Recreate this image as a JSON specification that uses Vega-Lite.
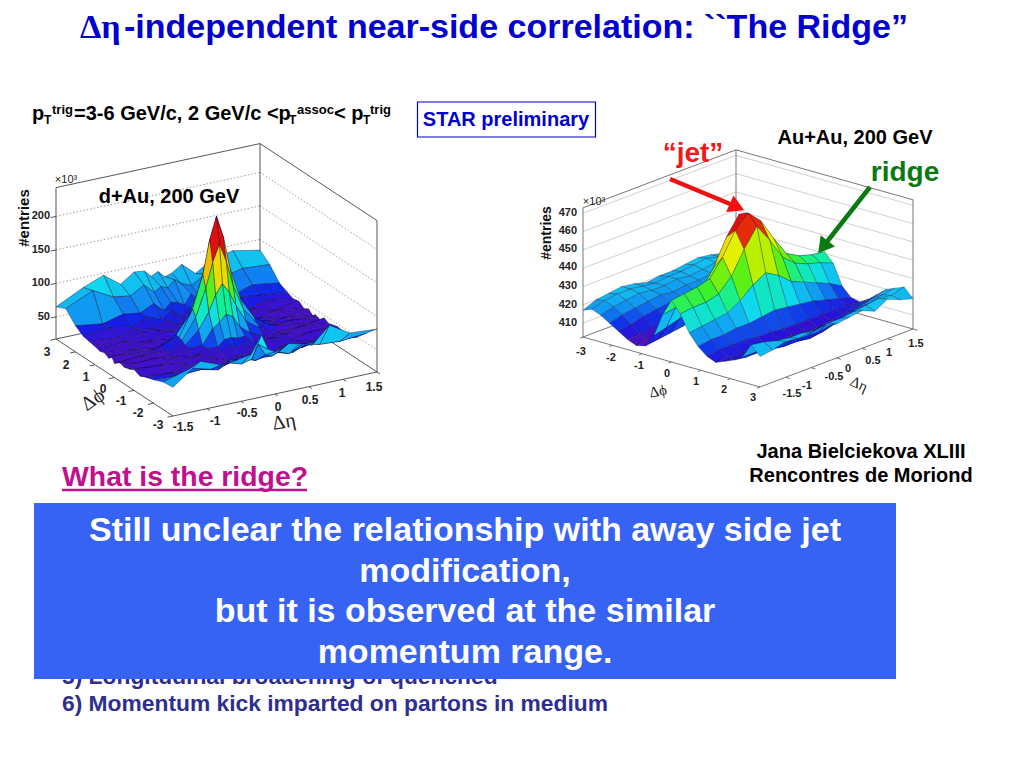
{"$schema":"https://vega.github.io/schema/vega-lite/v6.json","width":1024,"height":768,"padding":0,"autosize":{"type":"fit","contains":"padding"},"background":"white","view":{"stroke":null},"config":{"text":{"font":"Liberation Sans","fontWeight":"bold"}},
"datasets":{
"A":[
{"n":0,"z":84},{"n":1,"z":92},{"n":2,"z":86},{"n":3,"z":70},{"n":4,"z":88},{"n":5,"z":78},{"n":6,"z":75},{"n":7,"z":85},{"n":8,"z":80},{"n":9,"z":90},{"n":10,"z":92},{"n":11,"z":78},{"n":12,"z":97},{"n":13,"z":85},{"n":14,"z":65},
{"n":100,"z":72},{"n":101,"z":75},{"n":102,"z":68},{"n":103,"z":78},{"n":104,"z":66},{"n":105,"z":72},{"n":106,"z":80},{"n":107,"z":70},{"n":108,"z":74},{"n":109,"z":68},{"n":110,"z":82},{"n":111,"z":70},{"n":112,"z":74},{"n":113,"z":90},{"n":114,"z":72},
{"n":200,"z":54},{"n":201,"z":60},{"n":202,"z":50},{"n":203,"z":62},{"n":204,"z":54},{"n":205,"z":66},{"n":206,"z":52},{"n":207,"z":58},{"n":208,"z":60},{"n":209,"z":50},{"n":210,"z":64},{"n":211,"z":54},{"n":212,"z":58},{"n":213,"z":50},{"n":214,"z":56},
{"n":300,"z":48},{"n":301,"z":52},{"n":302,"z":56},{"n":303,"z":46},{"n":304,"z":60},{"n":305,"z":48},{"n":306,"z":54},{"n":307,"z":50},{"n":308,"z":46},{"n":309,"z":58},{"n":310,"z":48},{"n":311,"z":56},{"n":312,"z":46},{"n":313,"z":52},{"n":314,"z":48},
{"n":400,"z":44},{"n":401,"z":50},{"n":402,"z":42},{"n":403,"z":54},{"n":404,"z":44},{"n":405,"z":48},{"n":406,"z":52},{"n":407,"z":44},{"n":408,"z":50},{"n":409,"z":42},{"n":410,"z":52},{"n":411,"z":44},{"n":412,"z":48},{"n":413,"z":42},{"n":414,"z":46},
{"n":500,"z":46},{"n":501,"z":40},{"n":502,"z":50},{"n":503,"z":43},{"n":504,"z":50},{"n":505,"z":43},{"n":506,"z":51},{"n":507,"z":56},{"n":508,"z":47},{"n":509,"z":51},{"n":510,"z":42},{"n":511,"z":47},{"n":512,"z":50},{"n":513,"z":42},{"n":514,"z":44},
{"n":600,"z":40},{"n":601,"z":46},{"n":602,"z":38},{"n":603,"z":46},{"n":604,"z":55},{"n":605,"z":52},{"n":606,"z":59},{"n":607,"z":64},{"n":608,"z":59},{"n":609,"z":54},{"n":610,"z":43},{"n":611,"z":48},{"n":612,"z":40},{"n":613,"z":48},{"n":614,"z":42},
{"n":700,"z":44},{"n":701,"z":38},{"n":702,"z":47},{"n":703,"z":45},{"n":704,"z":57},{"n":705,"z":69},{"n":706,"z":80},{"n":707,"z":90},{"n":708,"z":80},{"n":709,"z":67},{"n":710,"z":55},{"n":711,"z":43},{"n":712,"z":47},{"n":713,"z":40},{"n":714,"z":44},
{"n":800,"z":38},{"n":801,"z":44},{"n":802,"z":43},{"n":803,"z":55},{"n":804,"z":68},{"n":805,"z":95},{"n":806,"z":117},{"n":807,"z":132},{"n":808,"z":117},{"n":809,"z":95},{"n":810,"z":70},{"n":811,"z":49},{"n":812,"z":39},{"n":813,"z":44},{"n":814,"z":40},
{"n":900,"z":42},{"n":901,"z":38},{"n":902,"z":48},{"n":903,"z":53},{"n":904,"z":85},{"n":905,"z":123},{"n":906,"z":161},{"n":907,"z":188},{"n":908,"z":161},{"n":909,"z":123},{"n":910,"z":83},{"n":911,"z":57},{"n":912,"z":42},{"n":913,"z":42},{"n":914,"z":46},
{"n":1000,"z":40},{"n":1001,"z":46},{"n":1002,"z":44},{"n":1003,"z":62},{"n":1004,"z":94},{"n":1005,"z":142},{"n":1006,"z":192},{"n":1007,"z":225},{"n":1008,"z":192},{"n":1009,"z":142},{"n":1010,"z":94},{"n":1011,"z":56},{"n":1012,"z":50},{"n":1013,"z":40},{"n":1014,"z":38},
{"n":1100,"z":38},{"n":1101,"z":42},{"n":1102,"z":48},{"n":1103,"z":56},{"n":1104,"z":82},{"n":1105,"z":120},{"n":1106,"z":158},{"n":1107,"z":186},{"n":1108,"z":160},{"n":1109,"z":124},{"n":1110,"z":84},{"n":1111,"z":54},{"n":1112,"z":44},{"n":1113,"z":44},{"n":1114,"z":42},
{"n":1200,"z":46},{"n":1201,"z":40},{"n":1202,"z":40},{"n":1203,"z":52},{"n":1204,"z":66},{"n":1205,"z":93},{"n":1206,"z":115},{"n":1207,"z":130},{"n":1208,"z":115},{"n":1209,"z":92},{"n":1210,"z":68},{"n":1211,"z":50},{"n":1212,"z":42},{"n":1213,"z":36},{"n":1214,"z":44},
{"n":1300,"z":42},{"n":1301,"z":46},{"n":1302,"z":41},{"n":1303,"z":43},{"n":1304,"z":53},{"n":1305,"z":65},{"n":1306,"z":82},{"n":1307,"z":88},{"n":1308,"z":78},{"n":1309,"z":71},{"n":1310,"z":49},{"n":1311,"z":49},{"n":1312,"z":41},{"n":1313,"z":46},{"n":1314,"z":42},
{"n":1400,"z":44},{"n":1401,"z":38},{"n":1402,"z":46},{"n":1403,"z":44},{"n":1404,"z":43},{"n":1405,"z":56},{"n":1406,"z":55},{"n":1407,"z":58},{"n":1408,"z":57},{"n":1409,"z":48},{"n":1410,"z":49},{"n":1411,"z":42},{"n":1412,"z":46},{"n":1413,"z":38},{"n":1414,"z":44},
{"n":1500,"z":46},{"n":1501,"z":48},{"n":1502,"z":42},{"n":1503,"z":51},{"n":1504,"z":46},{"n":1505,"z":43},{"n":1506,"z":51},{"n":1507,"z":48},{"n":1508,"z":53},{"n":1509,"z":47},{"n":1510,"z":40},{"n":1511,"z":49},{"n":1512,"z":42},{"n":1513,"z":46},{"n":1514,"z":48},
{"n":1600,"z":44},{"n":1601,"z":40},{"n":1602,"z":46},{"n":1603,"z":42},{"n":1604,"z":38},{"n":1605,"z":46},{"n":1606,"z":40},{"n":1607,"z":44},{"n":1608,"z":42},{"n":1609,"z":38},{"n":1610,"z":44},{"n":1611,"z":40},{"n":1612,"z":46},{"n":1613,"z":38},{"n":1614,"z":44},
{"n":1700,"z":46},{"n":1701,"z":48},{"n":1702,"z":42},{"n":1703,"z":50},{"n":1704,"z":44},{"n":1705,"z":40},{"n":1706,"z":46},{"n":1707,"z":42},{"n":1708,"z":48},{"n":1709,"z":44},{"n":1710,"z":40},{"n":1711,"z":48},{"n":1712,"z":42},{"n":1713,"z":46},{"n":1714,"z":48},
{"n":1800,"z":50},{"n":1801,"z":54},{"n":1802,"z":58},{"n":1803,"z":48},{"n":1804,"z":52},{"n":1805,"z":56},{"n":1806,"z":50},{"n":1807,"z":48},{"n":1808,"z":54},{"n":1809,"z":50},{"n":1810,"z":58},{"n":1811,"z":46},{"n":1812,"z":52},{"n":1813,"z":50},{"n":1814,"z":52},
{"n":1900,"z":66},{"n":1901,"z":62},{"n":1902,"z":64},{"n":1903,"z":70},{"n":1904,"z":60},{"n":1905,"z":66},{"n":1906,"z":62},{"n":1907,"z":66},{"n":1908,"z":84},{"n":1909,"z":64},{"n":1910,"z":60},{"n":1911,"z":66},{"n":1912,"z":62},{"n":1913,"z":70},{"n":1914,"z":58},
{"n":2000,"z":81},{"n":2001,"z":84},{"n":2002,"z":102},{"n":2003,"z":78},{"n":2004,"z":84},{"n":2005,"z":88},{"n":2006,"z":82},{"n":2007,"z":80},{"n":2008,"z":86},{"n":2009,"z":110},{"n":2010,"z":84},{"n":2011,"z":80},{"n":2012,"z":78},{"n":2013,"z":90},{"n":2014,"z":60}
],
"B":[
{"n":0,"z":417},{"n":1,"z":419},{"n":2,"z":421},{"n":3,"z":422},{"n":4,"z":421},{"n":5,"z":420},{"n":6,"z":420},{"n":7,"z":419},{"n":8,"z":421},{"n":9,"z":422},{"n":10,"z":421},{"n":11,"z":420},{"n":12,"z":417},
{"n":100,"z":418},{"n":101,"z":420},{"n":102,"z":421},{"n":103,"z":423},{"n":104,"z":422},{"n":105,"z":421},{"n":106,"z":421},{"n":107,"z":420},{"n":108,"z":421},{"n":109,"z":422},{"n":110,"z":422},{"n":111,"z":421},{"n":112,"z":419},
{"n":200,"z":418},{"n":201,"z":419},{"n":202,"z":420},{"n":203,"z":422},{"n":204,"z":421},{"n":205,"z":420},{"n":206,"z":421},{"n":207,"z":420},{"n":208,"z":420},{"n":209,"z":421},{"n":210,"z":420},{"n":211,"z":419},{"n":212,"z":417},
{"n":300,"z":416},{"n":301,"z":417},{"n":302,"z":419},{"n":303,"z":420},{"n":304,"z":420},{"n":305,"z":419},{"n":306,"z":419},{"n":307,"z":418},{"n":308,"z":419},{"n":309,"z":418},{"n":310,"z":417},{"n":311,"z":416},{"n":312,"z":414},
{"n":400,"z":414},{"n":401,"z":415},{"n":402,"z":417},{"n":403,"z":418},{"n":404,"z":418},{"n":405,"z":417},{"n":406,"z":417},{"n":407,"z":416},{"n":408,"z":416},{"n":409,"z":415},{"n":410,"z":414},{"n":411,"z":412},{"n":412,"z":411},
{"n":500,"z":412},{"n":501,"z":413},{"n":502,"z":415},{"n":503,"z":416},{"n":504,"z":416},{"n":505,"z":415},{"n":506,"z":415},{"n":507,"z":414},{"n":508,"z":413},{"n":509,"z":411},{"n":510,"z":409},{"n":511,"z":408},{"n":512,"z":408},
{"n":600,"z":410},{"n":601,"z":411},{"n":602,"z":413},{"n":603,"z":414},{"n":604,"z":414},{"n":605,"z":414},{"n":606,"z":414},{"n":607,"z":412},{"n":608,"z":410},{"n":609,"z":408},{"n":610,"z":407},{"n":611,"z":406},{"n":612,"z":406},
{"n":700,"z":411},{"n":701,"z":412},{"n":702,"z":414},{"n":703,"z":415},{"n":704,"z":416},{"n":705,"z":417},{"n":706,"z":417},{"n":707,"z":415},{"n":708,"z":412},{"n":709,"z":410},{"n":710,"z":409},{"n":711,"z":408},{"n":712,"z":407},
{"n":800,"z":416},{"n":801,"z":418},{"n":802,"z":421},{"n":803,"z":423},{"n":804,"z":427},{"n":805,"z":434},{"n":806,"z":440},{"n":807,"z":434},{"n":808,"z":425},{"n":809,"z":420},{"n":810,"z":418},{"n":811,"z":416},{"n":812,"z":414},
{"n":900,"z":425},{"n":901,"z":427},{"n":902,"z":430},{"n":903,"z":433},{"n":904,"z":442},{"n":905,"z":456},{"n":906,"z":466},{"n":907,"z":456},{"n":908,"z":442},{"n":909,"z":432},{"n":910,"z":430},{"n":911,"z":428},{"n":912,"z":427},
{"n":1000,"z":431},{"n":1001,"z":432},{"n":1002,"z":434},{"n":1003,"z":438},{"n":1004,"z":449},{"n":1005,"z":461},{"n":1006,"z":468},{"n":1007,"z":461},{"n":1008,"z":449},{"n":1009,"z":440},{"n":1010,"z":438},{"n":1011,"z":437},{"n":1012,"z":436},
{"n":1100,"z":426},{"n":1101,"z":429},{"n":1102,"z":431},{"n":1103,"z":434},{"n":1104,"z":440},{"n":1105,"z":452},{"n":1106,"z":462},{"n":1107,"z":452},{"n":1108,"z":440},{"n":1109,"z":433},{"n":1110,"z":431},{"n":1111,"z":431},{"n":1112,"z":430},
{"n":1200,"z":415},{"n":1201,"z":419},{"n":1202,"z":422},{"n":1203,"z":425},{"n":1204,"z":428},{"n":1205,"z":434},{"n":1206,"z":438},{"n":1207,"z":434},{"n":1208,"z":428},{"n":1209,"z":424},{"n":1210,"z":423},{"n":1211,"z":422},{"n":1212,"z":421},
{"n":1300,"z":410},{"n":1301,"z":412},{"n":1302,"z":414},{"n":1303,"z":416},{"n":1304,"z":417},{"n":1305,"z":418},{"n":1306,"z":419},{"n":1307,"z":418},{"n":1308,"z":417},{"n":1309,"z":417},{"n":1310,"z":416},{"n":1311,"z":416},{"n":1312,"z":415},
{"n":1400,"z":409},{"n":1401,"z":410},{"n":1402,"z":410},{"n":1403,"z":410},{"n":1404,"z":410},{"n":1405,"z":410},{"n":1406,"z":410},{"n":1407,"z":411},{"n":1408,"z":411},{"n":1409,"z":412},{"n":1410,"z":412},{"n":1411,"z":412},{"n":1412,"z":411},
{"n":1500,"z":412},{"n":1501,"z":411},{"n":1502,"z":409},{"n":1503,"z":408},{"n":1504,"z":407},{"n":1505,"z":407},{"n":1506,"z":408},{"n":1507,"z":408},{"n":1508,"z":408},{"n":1509,"z":409},{"n":1510,"z":409},{"n":1511,"z":409},{"n":1512,"z":409},
{"n":1600,"z":416},{"n":1601,"z":414},{"n":1602,"z":412},{"n":1603,"z":410},{"n":1604,"z":408},{"n":1605,"z":407},{"n":1606,"z":407},{"n":1607,"z":408},{"n":1608,"z":408},{"n":1609,"z":409},{"n":1610,"z":410},{"n":1611,"z":410},{"n":1612,"z":411},
{"n":1700,"z":420},{"n":1701,"z":418},{"n":1702,"z":416},{"n":1703,"z":414},{"n":1704,"z":412},{"n":1705,"z":410},{"n":1706,"z":409},{"n":1707,"z":410},{"n":1708,"z":410},{"n":1709,"z":411},{"n":1710,"z":412},{"n":1711,"z":412},{"n":1712,"z":413},
{"n":1800,"z":422},{"n":1801,"z":421},{"n":1802,"z":419},{"n":1803,"z":418},{"n":1804,"z":416},{"n":1805,"z":415},{"n":1806,"z":414},{"n":1807,"z":414},{"n":1808,"z":415},{"n":1809,"z":415},{"n":1810,"z":416},{"n":1811,"z":416},{"n":1812,"z":416},
{"n":1900,"z":424},{"n":1901,"z":422},{"n":1902,"z":423},{"n":1903,"z":422},{"n":1904,"z":421},{"n":1905,"z":420},{"n":1906,"z":420},{"n":1907,"z":419},{"n":1908,"z":420},{"n":1909,"z":420},{"n":1910,"z":421},{"n":1911,"z":423},{"n":1912,"z":424},
{"n":2000,"z":419},{"n":2001,"z":421},{"n":2002,"z":424},{"n":2003,"z":420},{"n":2004,"z":423},{"n":2005,"z":422},{"n":2006,"z":421},{"n":2007,"z":423},{"n":2008,"z":422},{"n":2009,"z":421},{"n":2010,"z":422},{"n":2011,"z":420},{"n":2012,"z":419}
],
"frameA":[
{"p":3,"e":-1.5,"z":17,"p2":3,"e2":-1.5,"z2":243},{"p":3,"e":1.5,"z":17,"p2":3,"e2":1.5,"z2":243},{"p":-3,"e":1.5,"z":17,"p2":-3,"e2":1.5,"z2":243},
{"p":3,"e":-1.5,"z":243,"p2":3,"e2":1.5,"z2":243},{"p":3,"e":1.5,"z":243,"p2":-3,"e2":1.5,"z2":243},
{"p":3,"e":-1.5,"z":17,"p2":3,"e2":1.5,"z2":17},{"p":3,"e":1.5,"z":17,"p2":-3,"e2":1.5,"z2":17},{"p":3,"e":-1.5,"z":17,"p2":-3,"e2":-1.5,"z2":17},{"p":-3,"e":-1.5,"z":17,"p2":-3,"e2":1.5,"z2":17},
{"p":3,"e":-1.5,"z":50,"p2":3,"e2":-1.58,"z2":50},{"p":3,"e":-1.5,"z":100,"p2":3,"e2":-1.58,"z2":100},{"p":3,"e":-1.5,"z":150,"p2":3,"e2":-1.58,"z2":150},{"p":3,"e":-1.5,"z":200,"p2":3,"e2":-1.58,"z2":200},
{"p":3,"e":-1.5,"z":17,"p2":3,"e2":-1.58,"z2":17},{"p":2,"e":-1.5,"z":17,"p2":2,"e2":-1.58,"z2":17},{"p":1,"e":-1.5,"z":17,"p2":1,"e2":-1.58,"z2":17},{"p":0,"e":-1.5,"z":17,"p2":0,"e2":-1.58,"z2":17},{"p":-1,"e":-1.5,"z":17,"p2":-1,"e2":-1.58,"z2":17},{"p":-2,"e":-1.5,"z":17,"p2":-2,"e2":-1.58,"z2":17},{"p":-3,"e":-1.5,"z":17,"p2":-3,"e2":-1.58,"z2":17},
{"p":-3,"e":-1,"z":17,"p2":-3.15,"e2":-1,"z2":17},{"p":-3,"e":-0.5,"z":17,"p2":-3.15,"e2":-0.5,"z2":17},{"p":-3,"e":0,"z":17,"p2":-3.15,"e2":0,"z2":17},{"p":-3,"e":0.5,"z":17,"p2":-3.15,"e2":0.5,"z2":17},{"p":-3,"e":1,"z":17,"p2":-3.15,"e2":1,"z2":17},{"p":-3,"e":1.5,"z":17,"p2":-3.15,"e2":1.5,"z2":17}
],
"gridA":[
{"p":3,"e":-1.5,"z":50,"p2":3,"e2":1.5,"z2":50},{"p":3,"e":1.5,"z":50,"p2":-3,"e2":1.5,"z2":50},
{"p":3,"e":-1.5,"z":100,"p2":3,"e2":1.5,"z2":100},{"p":3,"e":1.5,"z":100,"p2":-3,"e2":1.5,"z2":100},
{"p":3,"e":-1.5,"z":150,"p2":3,"e2":1.5,"z2":150},{"p":3,"e":1.5,"z":150,"p2":-3,"e2":1.5,"z2":150},
{"p":3,"e":-1.5,"z":200,"p2":3,"e2":1.5,"z2":200},{"p":3,"e":1.5,"z":200,"p2":-3,"e2":1.5,"z2":200}
],
"frameB":[
{"p":-3,"e":-1.5,"z":402.4,"p2":-3,"e2":-1.5,"z2":473},{"p":-3,"e":1.5,"z":402.4,"p2":-3,"e2":1.5,"z2":473},{"p":3,"e":1.5,"z":402.4,"p2":3,"e2":1.5,"z2":473},
{"p":-3,"e":-1.5,"z":473,"p2":-3,"e2":1.5,"z2":473},{"p":-3,"e":1.5,"z":473,"p2":3,"e2":1.5,"z2":473},
{"p":-3,"e":-1.5,"z":402.4,"p2":-3,"e2":1.5,"z2":402.4},{"p":-3,"e":1.5,"z":402.4,"p2":3,"e2":1.5,"z2":402.4},{"p":-3,"e":-1.5,"z":402.4,"p2":3,"e2":-1.5,"z2":402.4},{"p":3,"e":-1.5,"z":402.4,"p2":3,"e2":1.5,"z2":402.4},
{"p":-3,"e":-1.5,"z":402.4,"p2":-3,"e2":-1.56,"z2":402.4},{"p":-2,"e":-1.5,"z":402.4,"p2":-2,"e2":-1.56,"z2":402.4},{"p":-1,"e":-1.5,"z":402.4,"p2":-1,"e2":-1.56,"z2":402.4},{"p":0,"e":-1.5,"z":402.4,"p2":0,"e2":-1.56,"z2":402.4},{"p":1,"e":-1.5,"z":402.4,"p2":1,"e2":-1.56,"z2":402.4},{"p":2,"e":-1.5,"z":402.4,"p2":2,"e2":-1.56,"z2":402.4},{"p":3,"e":-1.5,"z":402.4,"p2":3,"e2":-1.56,"z2":402.4},
{"p":3,"e":-1,"z":402.4,"p2":3.15,"e2":-1,"z2":402.4},{"p":3,"e":-0.5,"z":402.4,"p2":3.15,"e2":-0.5,"z2":402.4},{"p":3,"e":0,"z":402.4,"p2":3.15,"e2":0,"z2":402.4},{"p":3,"e":0.5,"z":402.4,"p2":3.15,"e2":0.5,"z2":402.4},{"p":3,"e":1,"z":402.4,"p2":3.15,"e2":1,"z2":402.4},{"p":3,"e":1.5,"z":402.4,"p2":3.15,"e2":1.5,"z2":402.4}
],
"gridB":[
{"p":-3,"e":-1.5,"z":410,"p2":-3,"e2":1.5,"z2":410},{"p":-3,"e":1.5,"z":410,"p2":3,"e2":1.5,"z2":410},
{"p":-3,"e":-1.5,"z":420,"p2":-3,"e2":1.5,"z2":420},{"p":-3,"e":1.5,"z":420,"p2":3,"e2":1.5,"z2":420},
{"p":-3,"e":-1.5,"z":430,"p2":-3,"e2":1.5,"z2":430},{"p":-3,"e":1.5,"z":430,"p2":3,"e2":1.5,"z2":430},
{"p":-3,"e":-1.5,"z":440,"p2":-3,"e2":1.5,"z2":440},{"p":-3,"e":1.5,"z":440,"p2":3,"e2":1.5,"z2":440},
{"p":-3,"e":-1.5,"z":450,"p2":-3,"e2":1.5,"z2":450},{"p":-3,"e":1.5,"z":450,"p2":3,"e2":1.5,"z2":450},
{"p":-3,"e":-1.5,"z":460,"p2":-3,"e2":1.5,"z2":460},{"p":-3,"e":1.5,"z":460,"p2":3,"e2":1.5,"z2":460},
{"p":-3,"e":-1.5,"z":470,"p2":-3,"e2":1.5,"z2":470},{"p":-3,"e":1.5,"z":470,"p2":3,"e2":1.5,"z2":470}
]
},
"encoding":{"x":{"field":"sx","type":"quantitative","scale":{"domain":[0,1024],"nice":false,"zero":false},"axis":null},"y":{"field":"sy","type":"quantitative","scale":{"domain":[768,0],"nice":false,"zero":false},"axis":null}},
"resolve":{"scale":{"fill":"independent"}},
"layer":[
{"data":{"name":"gridA"},"transform":[{"calculate":"173-19.5*(datum.p+3)+68*(datum.e+1.5)","as":"sx"},{"calculate":"416-12.83*(datum.p+3)-14.67*(datum.e+1.5)-0.67*(datum.z-17)","as":"sy"},{"calculate":"173-19.5*(datum.p2+3)+68*(datum.e2+1.5)","as":"sx2"},{"calculate":"416-12.83*(datum.p2+3)-14.67*(datum.e2+1.5)-0.67*(datum.z2-17)","as":"sy2"}],"mark":{"type":"rule","color":"#777","strokeWidth":0.7,"strokeDash":[1.5,2]},"encoding":{"x2":{"field":"sx2"},"y2":{"field":"sy2"}}},
{"data":{"name":"frameA"},"transform":[{"calculate":"173-19.5*(datum.p+3)+68*(datum.e+1.5)","as":"sx"},{"calculate":"416-12.83*(datum.p+3)-14.67*(datum.e+1.5)-0.67*(datum.z-17)","as":"sy"},{"calculate":"173-19.5*(datum.p2+3)+68*(datum.e2+1.5)","as":"sx2"},{"calculate":"416-12.83*(datum.p2+3)-14.67*(datum.e2+1.5)-0.67*(datum.z2-17)","as":"sy2"}],"mark":{"type":"rule","color":"#444","strokeWidth":0.9},"encoding":{"x2":{"field":"sx2"},"y2":{"field":"sy2"}}},
{"data":{"name":"gridB"},"transform":[{"calculate":"760-29.5*(3-datum.p)+51*(datum.e+1.5)","as":"sx"},{"calculate":"387-8.33*(3-datum.p)-19.33*(datum.e+1.5)-1.83*(datum.z-402.4)","as":"sy"},{"calculate":"760-29.5*(3-datum.p2)+51*(datum.e2+1.5)","as":"sx2"},{"calculate":"387-8.33*(3-datum.p2)-19.33*(datum.e2+1.5)-1.83*(datum.z2-402.4)","as":"sy2"}],"mark":{"type":"rule","color":"#bbb","strokeWidth":0.7},"encoding":{"x2":{"field":"sx2"},"y2":{"field":"sy2"}}},
{"data":{"name":"frameB"},"transform":[{"calculate":"760-29.5*(3-datum.p)+51*(datum.e+1.5)","as":"sx"},{"calculate":"387-8.33*(3-datum.p)-19.33*(datum.e+1.5)-1.83*(datum.z-402.4)","as":"sy"},{"calculate":"760-29.5*(3-datum.p2)+51*(datum.e2+1.5)","as":"sx2"},{"calculate":"387-8.33*(3-datum.p2)-19.33*(datum.e2+1.5)-1.83*(datum.z2-402.4)","as":"sy2"}],"mark":{"type":"rule","color":"#555","strokeWidth":0.8},"encoding":{"x2":{"field":"sx2"},"y2":{"field":"sy2"}}},
{"data":{"name":"A"},"transform":[
{"calculate":"datum.n+100","as":"n1"},{"calculate":"datum.n+101","as":"n2"},{"calculate":"datum.n+1","as":"n3"},
{"lookup":"n1","from":{"data":{"name":"A"},"key":"n","fields":["z"]},"as":["z1"]},
{"lookup":"n2","from":{"data":{"name":"A"},"key":"n","fields":["z"]},"as":["z2"]},
{"lookup":"n3","from":{"data":{"name":"A"},"key":"n","fields":["z"]},"as":["z3"]},
{"filter":"isValid(datum.z1)&&isValid(datum.z2)&&isValid(datum.z3)&&(datum.n%100)<14"},
{"calculate":"0.25*max(datum.z,datum.z1,datum.z2,datum.z3)+0.1875*(datum.z+datum.z1+datum.z2+datum.z3)","as":"zc"},
{"calculate":"[0,1,2,3,4]","as":"c"},{"flatten":["c"]},
{"calculate":"floor(datum.n/100)+((datum.c==1||datum.c==2)?1:0)","as":"ii"},
{"calculate":"(datum.n%100)+((datum.c==2||datum.c==3)?1:0)","as":"jj"},
{"calculate":"[datum.z,datum.z1,datum.z2,datum.z3,datum.z][datum.c]","as":"zz"},
{"calculate":"[3,2.5,2,1.6,1.3,1,0.75,0.5,0.3,0.15,0,-0.15,-0.3,-0.5,-0.75,-1,-1.3,-1.6,-2,-2.5,-3][datum.ii]","as":"pp"},
{"calculate":"[1.5,1.1,0.8,0.55,0.35,0.2,0.1,0,-0.1,-0.2,-0.35,-0.55,-0.8,-1.1,-1.5][datum.jj]","as":"ee"},
{"calculate":"173-19.5*(datum.pp+3)+68*(datum.ee+1.5)","as":"sx"},
{"calculate":"416-12.83*(datum.pp+3)-14.67*(datum.ee+1.5)-0.67*(datum.zz-17)","as":"sy"}],
"mark":{"type":"line","stroke":"#0a0a30","strokeWidth":0.45,"strokeOpacity":0.85},
"encoding":{"detail":{"field":"n"},"order":{"field":"c"},"fill":{"field":"zc","type":"quantitative","legend":null,"scale":{"domain":[36,46,54,64,76,92,110,128,152,175,195],"range":["#5a10b0","#3a10d0","#1020e8","#1070f0","#10a8f0","#10e0f0","#10f090","#40f020","#e8f000","#ff9000","#e01010"],"clamp":true,"interpolate":"rgb"}}}},
{"data":{"name":"B"},"transform":[
{"calculate":"datum.n+100","as":"n1"},{"calculate":"datum.n+101","as":"n2"},{"calculate":"datum.n+1","as":"n3"},
{"lookup":"n1","from":{"data":{"name":"B"},"key":"n","fields":["z"]},"as":["z1"]},
{"lookup":"n2","from":{"data":{"name":"B"},"key":"n","fields":["z"]},"as":["z2"]},
{"lookup":"n3","from":{"data":{"name":"B"},"key":"n","fields":["z"]},"as":["z3"]},
{"filter":"isValid(datum.z1)&&isValid(datum.z2)&&isValid(datum.z3)&&(datum.n%100)<12"},
{"calculate":"0.25*(datum.z+datum.z1+datum.z2+datum.z3)","as":"zc"},
{"calculate":"[0,1,2,3,4]","as":"c"},{"flatten":["c"]},
{"calculate":"floor(datum.n/100)+((datum.c==1||datum.c==2)?1:0)","as":"ii"},
{"calculate":"(datum.n%100)+((datum.c==2||datum.c==3)?1:0)","as":"jj"},
{"calculate":"[datum.z,datum.z1,datum.z2,datum.z3,datum.z][datum.c]","as":"zz"},
{"calculate":"-3+0.3*datum.ii","as":"pp"},{"calculate":"1.5-0.25*datum.jj","as":"ee"},
{"calculate":"760-29.5*(3-datum.pp)+51*(datum.ee+1.5)","as":"sx"},
{"calculate":"387-8.33*(3-datum.pp)-19.33*(datum.ee+1.5)-1.83*(datum.zz-402.4)","as":"sy"}],
"mark":{"type":"line","stroke":"#0a0a30","strokeWidth":0.4,"strokeOpacity":0.7},
"encoding":{"detail":{"field":"n"},"order":{"field":"c"},"fill":{"field":"zc","type":"quantitative","legend":null,"scale":{"domain":[406,409,413,418,424,430,436,445,451,456,462],"range":["#5a10b0","#2a10d8","#1030e8","#1090f0","#10d8f0","#10f0a0","#40f020","#a8f000","#e8f000","#ff9000","#e01010"],"clamp":true,"interpolate":"rgb"}}}},

{"data":{"values":[{"sx":124,"sy":38,"t":"-independent near-side correlation: ``The Ridge”"}]},"mark":{"type":"text","align":"left","baseline":"alphabetic","fontSize":34,"color":"#0000d0"},"encoding":{"text":{"field":"t"}}},
{"data":{"values":[{"sx":80,"sy":38,"t":"Δη"}]},"mark":{"type":"text","align":"left","baseline":"alphabetic","fontSize":34,"font":"Liberation Serif","color":"#0000d0"},"encoding":{"text":{"field":"t"}}},
{"data":{"values":[{"sx":32,"sy":120,"t":"p"},{"sx":74,"sy":120,"t":"=3-6 GeV/c, 2 GeV/c <p"},{"sx":334,"sy":120,"t":"< p"}]},"mark":{"type":"text","align":"left","baseline":"alphabetic","fontSize":20,"color":"#000"},"encoding":{"text":{"field":"t"}}},
{"data":{"values":[{"sx":44,"sy":124,"t":"T"},{"sx":289,"sy":124,"t":"T"},{"sx":363,"sy":124,"t":"T"}]},"mark":{"type":"text","align":"left","baseline":"alphabetic","fontSize":12,"color":"#000"},"encoding":{"text":{"field":"t"}}},
{"data":{"values":[{"sx":52,"sy":114,"t":"trig"},{"sx":297,"sy":114,"t":"assoc"},{"sx":370,"sy":114,"t":"trig"}]},"mark":{"type":"text","align":"left","baseline":"alphabetic","fontSize":13,"color":"#000"},"encoding":{"text":{"field":"t"}}},
{"data":{"values":[{"sx":417.5,"sy":102,"sx2":595.5,"sy2":137}]},"mark":{"type":"rect","fill":"#fff","stroke":"#0000c8","strokeWidth":1.2},"encoding":{"x2":{"field":"sx2"},"y2":{"field":"sy2"}}},
{"data":{"values":[{"sx":506,"sy":120,"t":"STAR preliminary"}]},"mark":{"type":"text","baseline":"middle","fontSize":20,"color":"#0000d0"},"encoding":{"text":{"field":"t"}}},
{"data":{"values":[{"sx":169,"sy":197,"t":"d+Au, 200 GeV"},{"sx":855,"sy":138,"t":"Au+Au, 200 GeV"},{"sx":861,"sy":452,"t":"Jana Bielciekova XLIII"},{"sx":861,"sy":476,"t":"Rencontres de Moriond"}]},"mark":{"type":"text","baseline":"middle","fontSize":20,"color":"#000"},"encoding":{"text":{"field":"t"}}},
{"data":{"values":[{"sx":693,"sy":154,"t":"“jet”"}]},"mark":{"type":"text","baseline":"middle","fontSize":28,"color":"#f01818"},"encoding":{"text":{"field":"t"}}},
{"data":{"values":[{"sx":905,"sy":173,"t":"ridge"}]},"mark":{"type":"text","baseline":"middle","fontSize":28,"color":"#0a7a10"},"encoding":{"text":{"field":"t"}}},
{"data":{"values":[{"sx":670,"sy":179,"sx2":735,"sy2":206}]},"mark":{"type":"rule","color":"#f01010","strokeWidth":4.5},"encoding":{"x2":{"field":"sx2"},"y2":{"field":"sy2"}}},
{"data":{"values":[{"sx":737,"sy":207}]},"mark":{"type":"point","shape":"triangle-up","filled":true,"size":330,"angle":114,"color":"#f01010","opacity":1}},
{"data":{"values":[{"sx":870,"sy":187,"sx2":826,"sy2":243}]},"mark":{"type":"rule","color":"#0a7a10","strokeWidth":4.5},"encoding":{"x2":{"field":"sx2"},"y2":{"field":"sy2"}}},
{"data":{"values":[{"sx":823,"sy":247}]},"mark":{"type":"point","shape":"triangle-up","filled":true,"size":330,"angle":218,"color":"#0a7a10","opacity":1}},
{"data":{"values":[{"sx":24,"sy":218,"t":"#entries"}]},"mark":{"type":"text","baseline":"middle","angle":270,"fontSize":15,"color":"#111"},"encoding":{"text":{"field":"t"}}},
{"data":{"values":[{"sx":50,"sy":216,"t":"200"},{"sx":50,"sy":250,"t":"150"},{"sx":50,"sy":283,"t":"100"},{"sx":50,"sy":317,"t":"50"}]},"mark":{"type":"text","align":"right","baseline":"middle","fontSize":11,"color":"#222"},"encoding":{"text":{"field":"t"}}},
{"data":{"values":[{"sx":66,"sy":180,"t":"×10³"}]},"mark":{"type":"text","baseline":"middle","fontSize":11,"fontWeight":"normal","color":"#222"},"encoding":{"text":{"field":"t"}}},
{"data":{"values":[{"sx":47,"sy":352,"t":"3"},{"sx":66,"sy":365,"t":"2"},{"sx":86,"sy":377,"t":"1"},{"sx":103,"sy":389,"t":"0"},{"sx":121,"sy":401,"t":"-1"},{"sx":138,"sy":413,"t":"-2"},{"sx":158,"sy":425,"t":"-3"},{"sx":183,"sy":427,"t":"-1.5"},{"sx":215,"sy":421,"t":"-1"},{"sx":247,"sy":413,"t":"-0.5"},{"sx":278,"sy":407,"t":"0"},{"sx":310,"sy":400,"t":"0.5"},{"sx":342,"sy":393,"t":"1"},{"sx":374,"sy":387,"t":"1.5"}]},"mark":{"type":"text","baseline":"middle","fontSize":12,"color":"#222"},"encoding":{"text":{"field":"t"}}},
{"data":{"values":[{"sx":93,"sy":400,"t":"Δϕ"}]},"mark":{"type":"text","baseline":"middle","angle":325,"fontSize":20,"font":"Liberation Serif","fontWeight":"normal","color":"#222"},"encoding":{"text":{"field":"t"}}},
{"data":{"values":[{"sx":284,"sy":422,"t":"Δη"}]},"mark":{"type":"text","baseline":"middle","angle":350,"fontSize":20,"font":"Liberation Serif","fontWeight":"normal","color":"#222"},"encoding":{"text":{"field":"t"}}},
{"data":{"values":[{"sx":547,"sy":233,"t":"#entries"}]},"mark":{"type":"text","baseline":"middle","angle":270,"fontSize":14,"color":"#111"},"encoding":{"text":{"field":"t"}}},
{"data":{"values":[{"sx":577,"sy":213,"t":"470"},{"sx":577,"sy":231,"t":"460"},{"sx":577,"sy":249,"t":"450"},{"sx":577,"sy":267,"t":"440"},{"sx":577,"sy":286,"t":"430"},{"sx":577,"sy":305,"t":"420"},{"sx":577,"sy":323,"t":"410"}]},"mark":{"type":"text","align":"right","baseline":"middle","fontSize":11,"color":"#222"},"encoding":{"text":{"field":"t"}}},
{"data":{"values":[{"sx":594,"sy":202,"t":"×10³"}]},"mark":{"type":"text","baseline":"middle","fontSize":11,"fontWeight":"normal","color":"#222"},"encoding":{"text":{"field":"t"}}},
{"data":{"values":[{"sx":581,"sy":352,"t":"-3"},{"sx":611,"sy":358,"t":"-2"},{"sx":639,"sy":366,"t":"-1"},{"sx":667,"sy":374,"t":"0"},{"sx":696,"sy":382,"t":"1"},{"sx":724,"sy":390,"t":"2"},{"sx":753,"sy":398,"t":"3"},{"sx":792,"sy":394,"t":"-1.5"},{"sx":807,"sy":386,"t":"-1"},{"sx":834,"sy":377,"t":"-0.5"},{"sx":848,"sy":369,"t":"0"},{"sx":873,"sy":361,"t":"0.5"},{"sx":889,"sy":353,"t":"1"},{"sx":916,"sy":344,"t":"1.5"}]},"mark":{"type":"text","baseline":"middle","fontSize":11,"color":"#222"},"encoding":{"text":{"field":"t"}}},
{"data":{"values":[{"sx":658,"sy":391,"t":"Δϕ"}]},"mark":{"type":"text","baseline":"middle","angle":350,"fontSize":15,"font":"Liberation Serif","fontWeight":"normal","color":"#222"},"encoding":{"text":{"field":"t"}}},
{"data":{"values":[{"sx":859,"sy":384,"t":"Δη"}]},"mark":{"type":"text","baseline":"middle","angle":25,"fontSize":15,"font":"Liberation Serif","fontWeight":"normal","color":"#222"},"encoding":{"text":{"field":"t"}}},
{"data":{"values":[{"sx":62,"sy":486,"t":"What is the ridge?"}]},"mark":{"type":"text","align":"left","baseline":"alphabetic","fontSize":28.4,"color":"#c0108c"},"encoding":{"text":{"field":"t"}}},
{"data":{"values":[{"sx":62,"sy":490,"sx2":307}]},"mark":{"type":"rule","color":"#c0108c","strokeWidth":2.5},"encoding":{"x2":{"field":"sx2"}}},
{"data":{"values":[{"sx":62,"sy":684,"t":"5) Longitudinal broadening of quenched"},{"sx":62,"sy":711,"t":"6) Momentum kick imparted on partons in medium"}]},"mark":{"type":"text","align":"left","baseline":"alphabetic","fontSize":22.8,"color":"#2e2e8f"},"encoding":{"text":{"field":"t"}}},
{"data":{"values":[{"sx":34,"sy":503,"sx2":896,"sy2":679}]},"mark":{"type":"rect","fill":"#3763f5"},"encoding":{"x2":{"field":"sx2"},"y2":{"field":"sy2"}}},
{"data":{"values":[{"sx":465,"sy":531,"t":"Still unclear the relationship with away side jet"},{"sx":465,"sy":572,"t":"modification,"},{"sx":465,"sy":612,"t":"but it is observed at the similar"},{"sx":465,"sy":653,"t":"momentum range."}]},"mark":{"type":"text","baseline":"middle","fontSize":34,"color":"#fff"},"encoding":{"text":{"field":"t"}}}
]}
